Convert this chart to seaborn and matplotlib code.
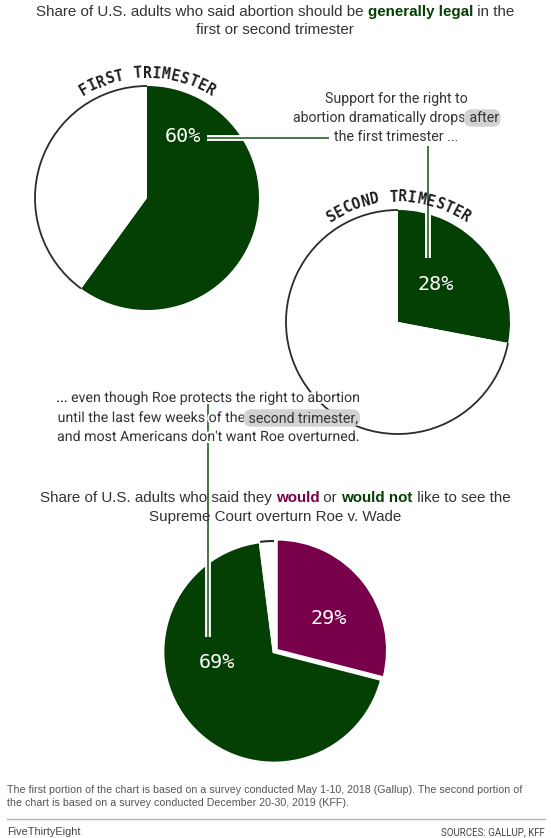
import matplotlib
matplotlib.use("Agg")
import matplotlib.pyplot as plt
import matplotlib.patheffects as pe
from matplotlib.patches import Arc
import numpy as np
import seaborn as sns

# --- data -----------------------------------------------------------------
first_labels = ["Generally legal", "Other"]
first_values = [60, 40]
second_labels = ["Generally legal", "Other"]
second_values = [28, 72]
roe_labels = ["Would", "Would not", "Don't know"]
roe_values = [29, 69, 2]

# --- style ----------------------------------------------------------------
W, H = 551, 838
GREEN = "#043f04"
PURPLE = "#78004b"
INK = "#333333"
HILITE = "#d2d2d2"
SANS = ["Liberation Sans", "DejaVu Sans"]
COND = ["Roboto", "DejaVu Sans"]
MONO = ["DejaVu Sans Mono"]

sns.set_theme(style="white")
plt.rcParams["font.family"] = SANS

fig = plt.figure(figsize=(W / 100, H / 100), dpi=100)
ax = fig.add_axes([0, 0, 1, 1])
renderer = fig.canvas.get_renderer()


def Y(y):
    return H - y


def text_width(s, **kw):
    # measure with bars on both sides so leading/trailing spaces count
    t = ax.text(0, 0, "|" + s + "|", **kw)
    t2 = ax.text(0, 0, "||", **kw)
    w = t.get_window_extent(renderer).width - t2.get_window_extent(renderer).width
    t.remove()
    t2.remove()
    return w


def rich_line(cx, y, pieces, size, family, color=INK, halo=False):
    """pieces: list of (text, color or None, bold, highlight)."""
    specs = []
    for s, c, bold, hl in pieces:
        kw = dict(fontsize=size, family=family, color=c or color,
                  fontweight="bold" if bold else "normal")
        specs.append((s, kw, hl, text_width(s, **kw)))
    x = cx - sum(sp[3] for sp in specs) / 2
    for s, kw, hl, w in specs:
        extra = {}
        if hl:
            extra["bbox"] = dict(boxstyle="round,pad=0.12,rounding_size=0.55",
                                 fc=HILITE, ec="none")
        if halo and not hl:
            extra["path_effects"] = [pe.withStroke(linewidth=3, foreground="white")]
        ax.text(x, Y(y), s, ha="left", va="center", zorder=6, **kw, **extra)
        x += w


def draw_pie(values, colors, center, radius, explode=None, edge=0):
    cx, cy = center
    wedges, _ = ax.pie(values, colors=colors, startangle=90, counterclock=False,
                       center=(cx, Y(cy)), radius=radius, explode=explode,
                       wedgeprops=dict(linewidth=edge, edgecolor="white"))
    return wedges


def outline(wedge, color="#2b2b2b", lw=1.3):
    ax.add_patch(Arc(wedge.center, 2 * wedge.r, 2 * wedge.r,
                     theta1=wedge.theta1, theta2=wedge.theta2,
                     color=color, lw=lw, zorder=2))


def arc_label(text, center, radius, step=9.4):
    cx, cy = center
    d = np.degrees(step / radius)
    n = len(text)
    for i, ch in enumerate(text):
        ang = 90 + (n - 1) / 2 * d - i * d
        x = cx + radius * np.cos(np.radians(ang))
        y = Y(cy) + radius * np.sin(np.radians(ang))
        ax.text(x, y, ch, rotation=ang - 90, rotation_mode="anchor",
                ha="center", va="center", fontsize=10.5, family=MONO,
                color="#1e1e1e", fontweight="bold", zorder=5)


def pct(x, y, v):
    ax.text(x, Y(y), f"{v}%", color="white", fontsize=14.5, family=MONO,
            ha="center", va="center", zorder=5)


def connector(xs, ys):
    yy = [Y(v) for v in ys]
    ax.plot(xs, yy, color="white", lw=4.2, solid_capstyle="butt", zorder=3)
    ax.plot(xs, yy, color=GREEN, lw=1.2, solid_capstyle="butt", zorder=4, alpha=0.85)


# --- titles ---------------------------------------------------------------
TS = 10.9
AS = 10.2
rich_line(275, 12, [("Share of U.S. adults who said abortion should be ", None, False, False),
                    ("generally legal", GREEN, True, False),
                    (" in the", None, False, False)], TS, SANS)
rich_line(275, 30, [("first or second trimester", None, False, False)], TS, SANS)

# --- first trimester pie --------------------------------------------------
c1, c2, c3 = (147, 198), (398, 322), (274, 652)
w1 = draw_pie(first_values, [GREEN, "white"], c1, 112)
outline(w1[1])
arc_label("FIRST TRIMESTER", c1, 112 + 13)
pct(183, 137, first_values[0])
connector([207, 329], [138, 138])

rich_line(396, 99, [("Support for the right to", None, False, False)], AS, COND)
rich_line(396, 118, [("abortion dramatically drops", None, False, False),
                     (" after", None, False, True)], AS, COND)
rich_line(396, 137, [("the first trimester ...", None, False, False)], AS, COND)

# --- second trimester pie -------------------------------------------------
w2 = draw_pie(second_values, [GREEN, "white"], c2, 112)
outline(w2[1])
arc_label("SECOND TRIMESTER", c2, 112 + 13)
connector([428, 428], [146, 258])
pct(436, 284, second_values[0])

# --- middle annotation ----------------------------------------------------
connector([208, 208], [404, 637])
rich_line(208, 398, [("... even though Roe protects the right to abortion", None, False, False)],
          AS, COND, halo=True)
rich_line(208, 418, [("until the last few weeks of the", None, False, False),
                     (" second trimester,", None, False, True)], AS, COND, halo=True)
rich_line(208, 437, [("and most Americans don\u2032t want Roe overturned.", None, False, False)],
          AS, COND, halo=True)

# --- Roe pie --------------------------------------------------------------
rich_line(275, 498, [("Share of U.S. adults who said they ", None, False, False),
                     ("would", PURPLE, True, False),
                     (" or ", None, False, False),
                     ("would not", GREEN, True, False),
                     (" like to see the", None, False, False)], TS, SANS)
rich_line(275, 517, [("Supreme Court overturn Roe v. Wade", None, False, False)], TS, SANS)

w3 = draw_pie(roe_values, [PURPLE, GREEN, "white"], c3, 111,
              explode=[3, 0, 0], edge=2)
outline(w3[2], lw=1.5)
pct(329, 619, roe_values[0])
pct(217, 663, roe_values[1])

# --- footer ---------------------------------------------------------------
ax.text(7, Y(790), "The first portion of the chart is based on a survey conducted May 1-10, 2018 "
        "(Gallup). The second portion of", fontsize=7.7, color="#555555", va="center")
ax.text(7, Y(803), "the chart is based on a survey conducted December 20-30, 2019 (KFF).",
        fontsize=7.7, color="#555555", va="center")
ax.plot([7, 545], [Y(819), Y(819)], color="#b5b5b5", lw=1)
ax.text(7, Y(832), "FiveThirtyEight", fontsize=7.8, color="#444444", va="center")
ax.text(545, Y(832), "SOURCES: GALLUP, KFF", fontsize=7, color="#444444",
        va="center", ha="right", family=COND)

ax.set_xlim(0, W)
ax.set_ylim(0, H)
ax.set_aspect("equal")
ax.axis("off")
fig.savefig("out.png", dpi=100, facecolor="white")
